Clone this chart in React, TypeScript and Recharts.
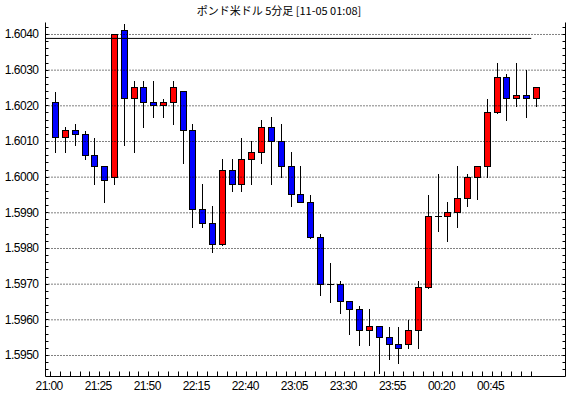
import React from 'react';
import { ComposedChart, Bar, XAxis, YAxis, ReferenceLine } from 'recharts';

const title = 'ポンド米ドル 5分足 [11-05 01:08]';

const times = [
  '21:00', '21:05', '21:10', '21:15', '21:20', '21:25', '21:30', '21:35', '21:40', '21:45',
  '21:50', '21:55', '22:00', '22:05', '22:10', '22:15', '22:20', '22:25', '22:30', '22:35',
  '22:40', '22:45', '22:50', '22:55', '23:00', '23:05', '23:10', '23:15', '23:20', '23:25',
  '23:30', '23:35', '23:40', '23:45', '23:50', '23:55', '00:00', '00:05', '00:10', '00:15',
  '00:20', '00:25', '00:30', '00:35', '00:40', '00:45', '00:50', '00:55', '01:00', '01:05',
];

const opens = [
  1.6021, 1.6011, 1.6013, 1.6012, 1.6006, 1.6003, 1.6000, 1.6041, 1.6022, 1.6025,
  1.6021, 1.6020, 1.6021, 1.6024, 1.6013, 1.5991, 1.5987, 1.5981, 1.6002, 1.5998,
  1.6005, 1.6007, 1.6014, 1.6010, 1.6003, 1.5995, 1.5993, 1.5983, 1.5970, 1.5970,
  1.5965, 1.5963, 1.5957, 1.5958, 1.5955, 1.5953, 1.5953, 1.5957, 1.5969, 1.5989,
  1.5989, 1.5990, 1.5994, 1.6000, 1.6003, 1.6018, 1.6028, 1.6022, 1.6023, 1.6022,
];
const highs = [
  1.6024, 1.6014, 1.6015, 1.6013, 1.6011, 1.6003, 1.6040, 1.6043, 1.6027, 1.6027,
  1.6027, 1.6022, 1.6027, 1.6024, 1.6015, 1.5998, 1.5992, 1.6005, 1.6005, 1.6011,
  1.6010, 1.6016, 1.6017, 1.6015, 1.6007, 1.6003, 1.5995, 1.5984, 1.5976, 1.5971,
  1.5965, 1.5964, 1.5963, 1.5958, 1.5958, 1.5958, 1.5960, 1.5971, 1.5995, 1.6001,
  1.5993, 1.6003, 1.6001, 1.6003, 1.6022, 1.6032, 1.6029, 1.6032, 1.6030, 1.6025,
];
const lows = [
  1.6007, 1.6007, 1.6009, 1.6005, 1.5998, 1.5993, 1.5998, 1.6009, 1.6007, 1.6014,
  1.6017, 1.6017, 1.6015, 1.6004, 1.5986, 1.5986, 1.5979, 1.5981, 1.5996, 1.5996,
  1.5998, 1.6004, 1.5998, 1.6000, 1.5992, 1.5993, 1.5983, 1.5967, 1.5965, 1.5962,
  1.5956, 1.5953, 1.5953, 1.5945, 1.5949, 1.5948, 1.5952, 1.5952, 1.5969, 1.5985,
  1.5982, 1.5986, 1.5992, 1.5994, 1.6000, 1.6018, 1.6016, 1.6020, 1.6017, 1.6020,
];
const closes = [
  1.6011, 1.6013, 1.6012, 1.6006, 1.6003, 1.5999, 1.6040, 1.6022, 1.6025, 1.6021,
  1.6020, 1.6021, 1.6025, 1.6013, 1.5991, 1.5987, 1.5981, 1.6002, 1.5998, 1.6005,
  1.6007, 1.6014, 1.6010, 1.6003, 1.5995, 1.5993, 1.5983, 1.5970, 1.5970, 1.5965,
  1.5963, 1.5957, 1.5958, 1.5955, 1.5953, 1.5952, 1.5957, 1.5969, 1.5989, 1.5989,
  1.5990, 1.5994, 1.6000, 1.6003, 1.6018, 1.6028, 1.6022, 1.6023, 1.6022, 1.6025,
];

const xTickLabels = ['21:00', '21:25', '21:50', '22:15', '22:40', '23:05', '23:30', '23:55', '00:20', '00:45'];
const yTickLabels = [1.595, 1.596, 1.597, 1.598, 1.599, 1.6, 1.601, 1.602, 1.603, 1.604];
const refLevel = 1.60389;
const refEndIndex = 48.5;

const Y_DOMAIN: [number, number] = [1.594411, 1.604336];
const X_DOMAIN: [number, number] = [-1.02, 51.99];

const data = times.map((t, i) => ({
  i,
  t,
  open: opens[i],
  high: highs[i],
  low: lows[i],
  close: closes[i],
  range: [lows[i], highs[i]],
}));

// minor ticks every 2 pips
const yMinorTicks: number[] = [];
for (let k = 15946; k <= 16042; k += 2) yMinorTicks.push(k / 10000);
// x ticks between candles
const xTicks: number[] = [];
for (let k = 0; k < times.length; k++) xTicks.push(k - 0.5);

const FONT = '"Liberation Sans", Arial, sans-serif';

const Candle = (props: any) => {
  const { x, y, width, height, payload } = props;
  const { open, close, high, low } = payload;
  const top = Math.min(y, y + height);
  const bot = Math.max(y, y + height);
  const span = high - low;
  const py = (v: number) => (span === 0 ? top : top + ((high - v) / span) * (bot - top));
  const cx = Math.round(x + width / 2 - 0.5);
  const wx = cx + 0.5;
  const yo = py(open);
  const yc = py(close);
  const bTop = Math.round(Math.min(yo, yc) - 0.5) + 0.5;
  const bBot = Math.round(Math.max(yo, yc) - 0.5) + 0.5;
  const color = close > open ? '#ff0000' : close < open ? '#0000ff' : '#000000';
  return (
    <g>
      <line x1={wx} x2={wx} y1={Math.round(top)} y2={Math.round(bot) + 1} stroke="#000" strokeWidth={1} />
      {bBot - bTop >= 1 ? (
        <rect x={cx - 2.5} y={bTop} width={6} height={bBot - bTop} fill={color} stroke="#000" strokeWidth={1} />
      ) : (
        <line x1={cx - 3} x2={cx + 4} y1={bTop} y2={bTop} stroke="#000" strokeWidth={1} />
      )}
    </g>
  );
};

const BottomTick = (props: any) => {
  const { x, y, payload } = props;
  const k = Math.round(payload.value + 0.5);
  const lx = Math.round(x - 0.5) + 0.5;
  const show = k % 5 === 0 && k / 5 < xTickLabels.length;
  return (
    <g>
      <line x1={lx} x2={lx} y1={y} y2={y - 5} stroke="#000" strokeWidth={1} />
      {show && (
        <text x={x - 1.5} y={y + 13} textAnchor="middle" fontFamily={FONT} fontSize={12} letterSpacing={-0.6} fill="#000">
          {xTickLabels[k / 5]}
        </text>
      )}
    </g>
  );
};

const TopTick = (props: any) => {
  const { x, y } = props;
  const lx = Math.round(x - 0.5) + 0.5;
  return <line x1={lx} x2={lx} y1={y} y2={y + 4} stroke="#000" strokeWidth={1} />;
};

const LeftTick = (props: any) => {
  const { x, y, payload } = props;
  const v = payload.value as number;
  const ly = Math.round(y - 0.5) + 0.5;
  const labeled = Math.round(v * 10000) % 10 === 0;
  return (
    <g>
      <line x1={x} x2={x + 3} y1={ly} y2={ly} stroke="#000" strokeWidth={1} />
      {labeled && (
        <text x={x - 7} y={y + 4} textAnchor="end" fontFamily={FONT} fontSize={12} letterSpacing={-0.5} fill="#000">
          {v.toFixed(4)}
        </text>
      )}
    </g>
  );
};

const RightTick = (props: any) => {
  const { x, y } = props;
  const ly = Math.round(y - 0.5) + 0.5;
  return <line x1={x} x2={x - 3} y1={ly} y2={ly} stroke="#000" strokeWidth={1} />;
};

export default function App() {
  return (
    <div style={{ position: 'absolute', left: 0, top: 0, width: 570, height: 398, background: '#fff' }}>
      <div
        style={{
          position: 'absolute',
          left: 0,
          top: 2,
          width: 558,
          textAlign: 'center',
          fontFamily: '"Noto Sans CJK JP", sans-serif',
          fontSize: 11,
          lineHeight: '16px',
          color: '#000',
        }}
      >
        {title}
      </div>
      <ComposedChart
        width={570}
        height={398}
        data={data}
        margin={{ top: 22.5, right: 0, bottom: 0, left: 0 }}
      >
        <XAxis
          xAxisId="b"
          dataKey="i"
          type="number"
          domain={X_DOMAIN}
          allowDataOverflow
          ticks={xTicks}
          interval={0}
          height={21.5}
          tickSize={0}
          tickMargin={0}
          tickLine={false}
          axisLine={{ stroke: '#000' }}
          tick={<BottomTick />}
        />
        <XAxis
          xAxisId="t"
          orientation="top"
          dataKey="i"
          type="number"
          domain={X_DOMAIN}
          allowDataOverflow
          ticks={xTicks}
          interval={0}
          height={0}
          tickSize={0}
          tickMargin={0}
          tickLine={false}
          axisLine={{ stroke: '#000' }}
          tick={<TopTick />}
        />
        <YAxis
          yAxisId="l"
          type="number"
          domain={Y_DOMAIN}
          allowDataOverflow
          ticks={yMinorTicks}
          interval={0}
          width={45.5}
          tickSize={0}
          tickMargin={0}
          tickLine={false}
          axisLine={{ stroke: '#000' }}
          tick={<LeftTick />}
        />
        <YAxis
          yAxisId="r"
          orientation="right"
          type="number"
          domain={Y_DOMAIN}
          allowDataOverflow
          ticks={yMinorTicks}
          interval={0}
          width={4.5}
          tickSize={0}
          tickMargin={0}
          tickLine={false}
          axisLine={{ stroke: '#000' }}
          tick={<RightTick />}
        />
        {yTickLabels.map((v) => (
          <ReferenceLine
            key={v}
            xAxisId="b"
            yAxisId="l"
            y={v}
            stroke="#000"
            strokeWidth={1}
            strokeDasharray="1 2"
            ifOverflow="extendDomain"
          />
        ))}
        <ReferenceLine
          xAxisId="b"
          yAxisId="l"
          segment={[
            { x: X_DOMAIN[0], y: refLevel },
            { x: refEndIndex, y: refLevel },
          ]}
          stroke="#000"
          strokeWidth={1}
        />
        <Bar
          xAxisId="b"
          yAxisId="l"
          dataKey="range"
          barSize={6}
          shape={<Candle />}
          isAnimationActive={false}
        />
      </ComposedChart>
    </div>
  );
}
